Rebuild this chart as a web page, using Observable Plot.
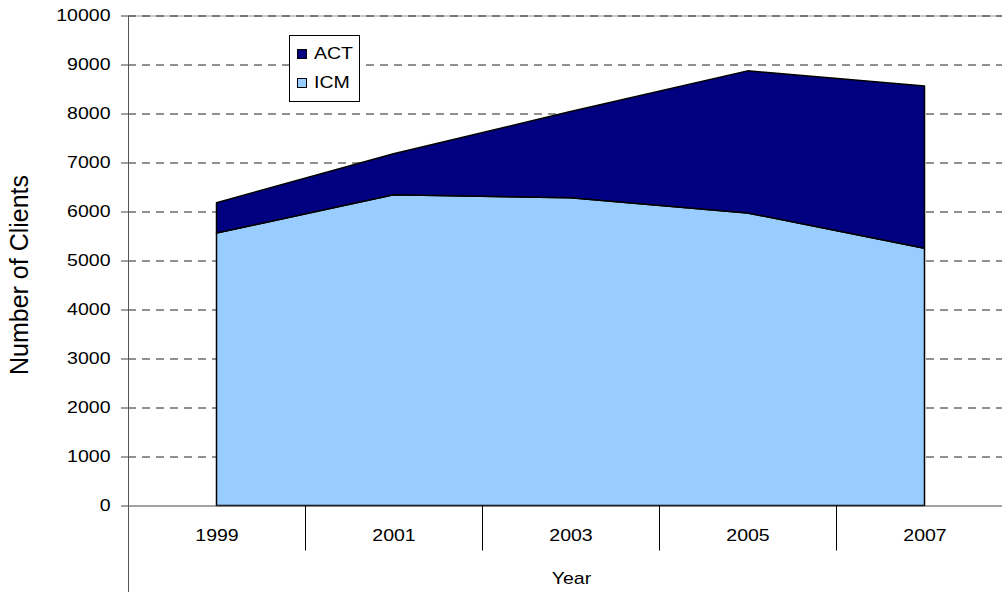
<!DOCTYPE html>
<html><head><meta charset="utf-8">
<script src="https://cdn.jsdelivr.net/npm/d3@7"></script>
<script src="https://cdn.jsdelivr.net/npm/@observablehq/plot@0.6"></script>
<style>
html,body{margin:0;padding:0;background:#fff;overflow:hidden;}
#wrap{position:relative;width:1002px;height:592px;font-family:"Liberation Sans",Arial,sans-serif;}
#legend{position:absolute;left:289px;top:35px;width:71px;height:67px;border:1px solid #000;background:#fff;box-sizing:border-box;}
.item{position:absolute;left:7px;height:20px;display:flex;align-items:center;font-size:16px;color:#000;}
.item span.t{display:inline-block;transform:scaleX(1.22);transform-origin:left center;}
.sw{width:10px;height:10px;border:1px solid #000;margin-right:7px;box-sizing:border-box}
</style></head>
<body><div id="wrap"></div>
<script>
const years = [1999, 2001, 2003, 2005, 2007];
const icm = [5560, 6340, 6280, 5970, 5250];
const act = [620, 840, 1760, 2900, 3310];
const seriesNames = ["ACT", "ICM"];
const seriesColors = ["#000080", "#99CCFF"];
const yTicks = [0, 1000, 2000, 3000, 4000, 5000, 6000, 7000, 8000, 9000, 10000];
const separators = [2000, 2002, 2004, 2006];

const data = [
  ...years.map((y, i) => ({year: y, series: "ICM", value: icm[i]})),
  ...years.map((y, i) => ({year: y, series: "ACT", value: act[i]}))
];

const plot = Plot.plot({
  width: 1002, height: 592,
  marginLeft: 128, marginRight: 0, marginTop: 15.5, marginBottom: 86.5,
  style: {fontFamily: "Liberation Sans, Arial, sans-serif", fontSize: "16px", color: "#000", background: "#fff"},
  x: {type: "linear", domain: [1998, 2008], range: [128, 1013]},
  y: {domain: [0, 10000], range: [505.5, 15.5]},
  color: {domain: seriesNames, range: seriesColors},
  marks: [
    Plot.ruleY([10000], {stroke: "#999"}),
    Plot.ruleY(yTicks.filter(d => d > 0), {stroke: "#222", strokeDasharray: "8,6"}),
    Plot.areaY(data, {x: "year", y: "value", fill: "series", z: "series", order: ["ICM", "ACT"], stroke: "#000", strokeWidth: 1.5}),
    Plot.ruleY([0], {stroke: "#444"}),
    Plot.ruleX([1998], {stroke: "#555", insetBottom: -87}),
    Plot.axisY(yTicks, {tickSize: 7, tickPadding: 11, stroke: "#444", tickFormat: d => String(d),
      label: "Number of Clients", labelAnchor: "center", labelOffset: 105, labelArrow: "none", fontSize: 16}),
    Plot.axisX(separators, {tickSize: 45, text: null, stroke: "#000", label: null}),
    Plot.axisX(years, {tickSize: 0, tickPadding: 24, tickFormat: d => String(d),
      label: "Year", labelAnchor: "center", labelOffset: 62, labelArrow: "none", fontSize: 16})
  ]
});
document.getElementById("wrap").appendChild(plot);

// horizontally stretch axis text like the reference
plot.querySelectorAll('g[aria-label$="tick label"] text').forEach(t => {
  const tr = t.getAttribute("transform") || "";
  t.setAttribute("transform", tr + " scale(1.22,1)");
});
plot.querySelectorAll('g[aria-label$="axis label"] text').forEach(t => {
  const isY = t.closest('g').getAttribute("aria-label").startsWith("y");
  const tr = t.getAttribute("transform") || "";
  const m = tr.match(/translate\(\s*([-\d.]+)\s*,\s*([-\d.]+)\s*\)(.*)/);
  t.style.fontSize = isY ? "25px" : "16px";
  if (m) {
    const x = +m[1], y = +m[2];
    if (isY) t.setAttribute("transform", `translate(${x - 13},${y + 14})${m[3]}`);
    else t.setAttribute("transform", `translate(${x + 6},${y + 16})${m[3]} scale(1.22,1)`);
  }
});

// legend
const legend = document.createElement("div");
legend.id = "legend";
["ACT", "ICM"].forEach((name, i) => {
  const it = document.createElement("div");
  it.className = "item";
  it.style.top = (8 + i * 29) + "px";
  const sw = document.createElement("div");
  sw.className = "sw";
  sw.style.background = seriesColors[seriesNames.indexOf(name)];
  const t = document.createElement("span");
  t.className = "t";
  t.textContent = name;
  it.appendChild(sw); it.appendChild(t);
  legend.appendChild(it);
});
document.getElementById("wrap").appendChild(legend);
</script>
</body></html>
